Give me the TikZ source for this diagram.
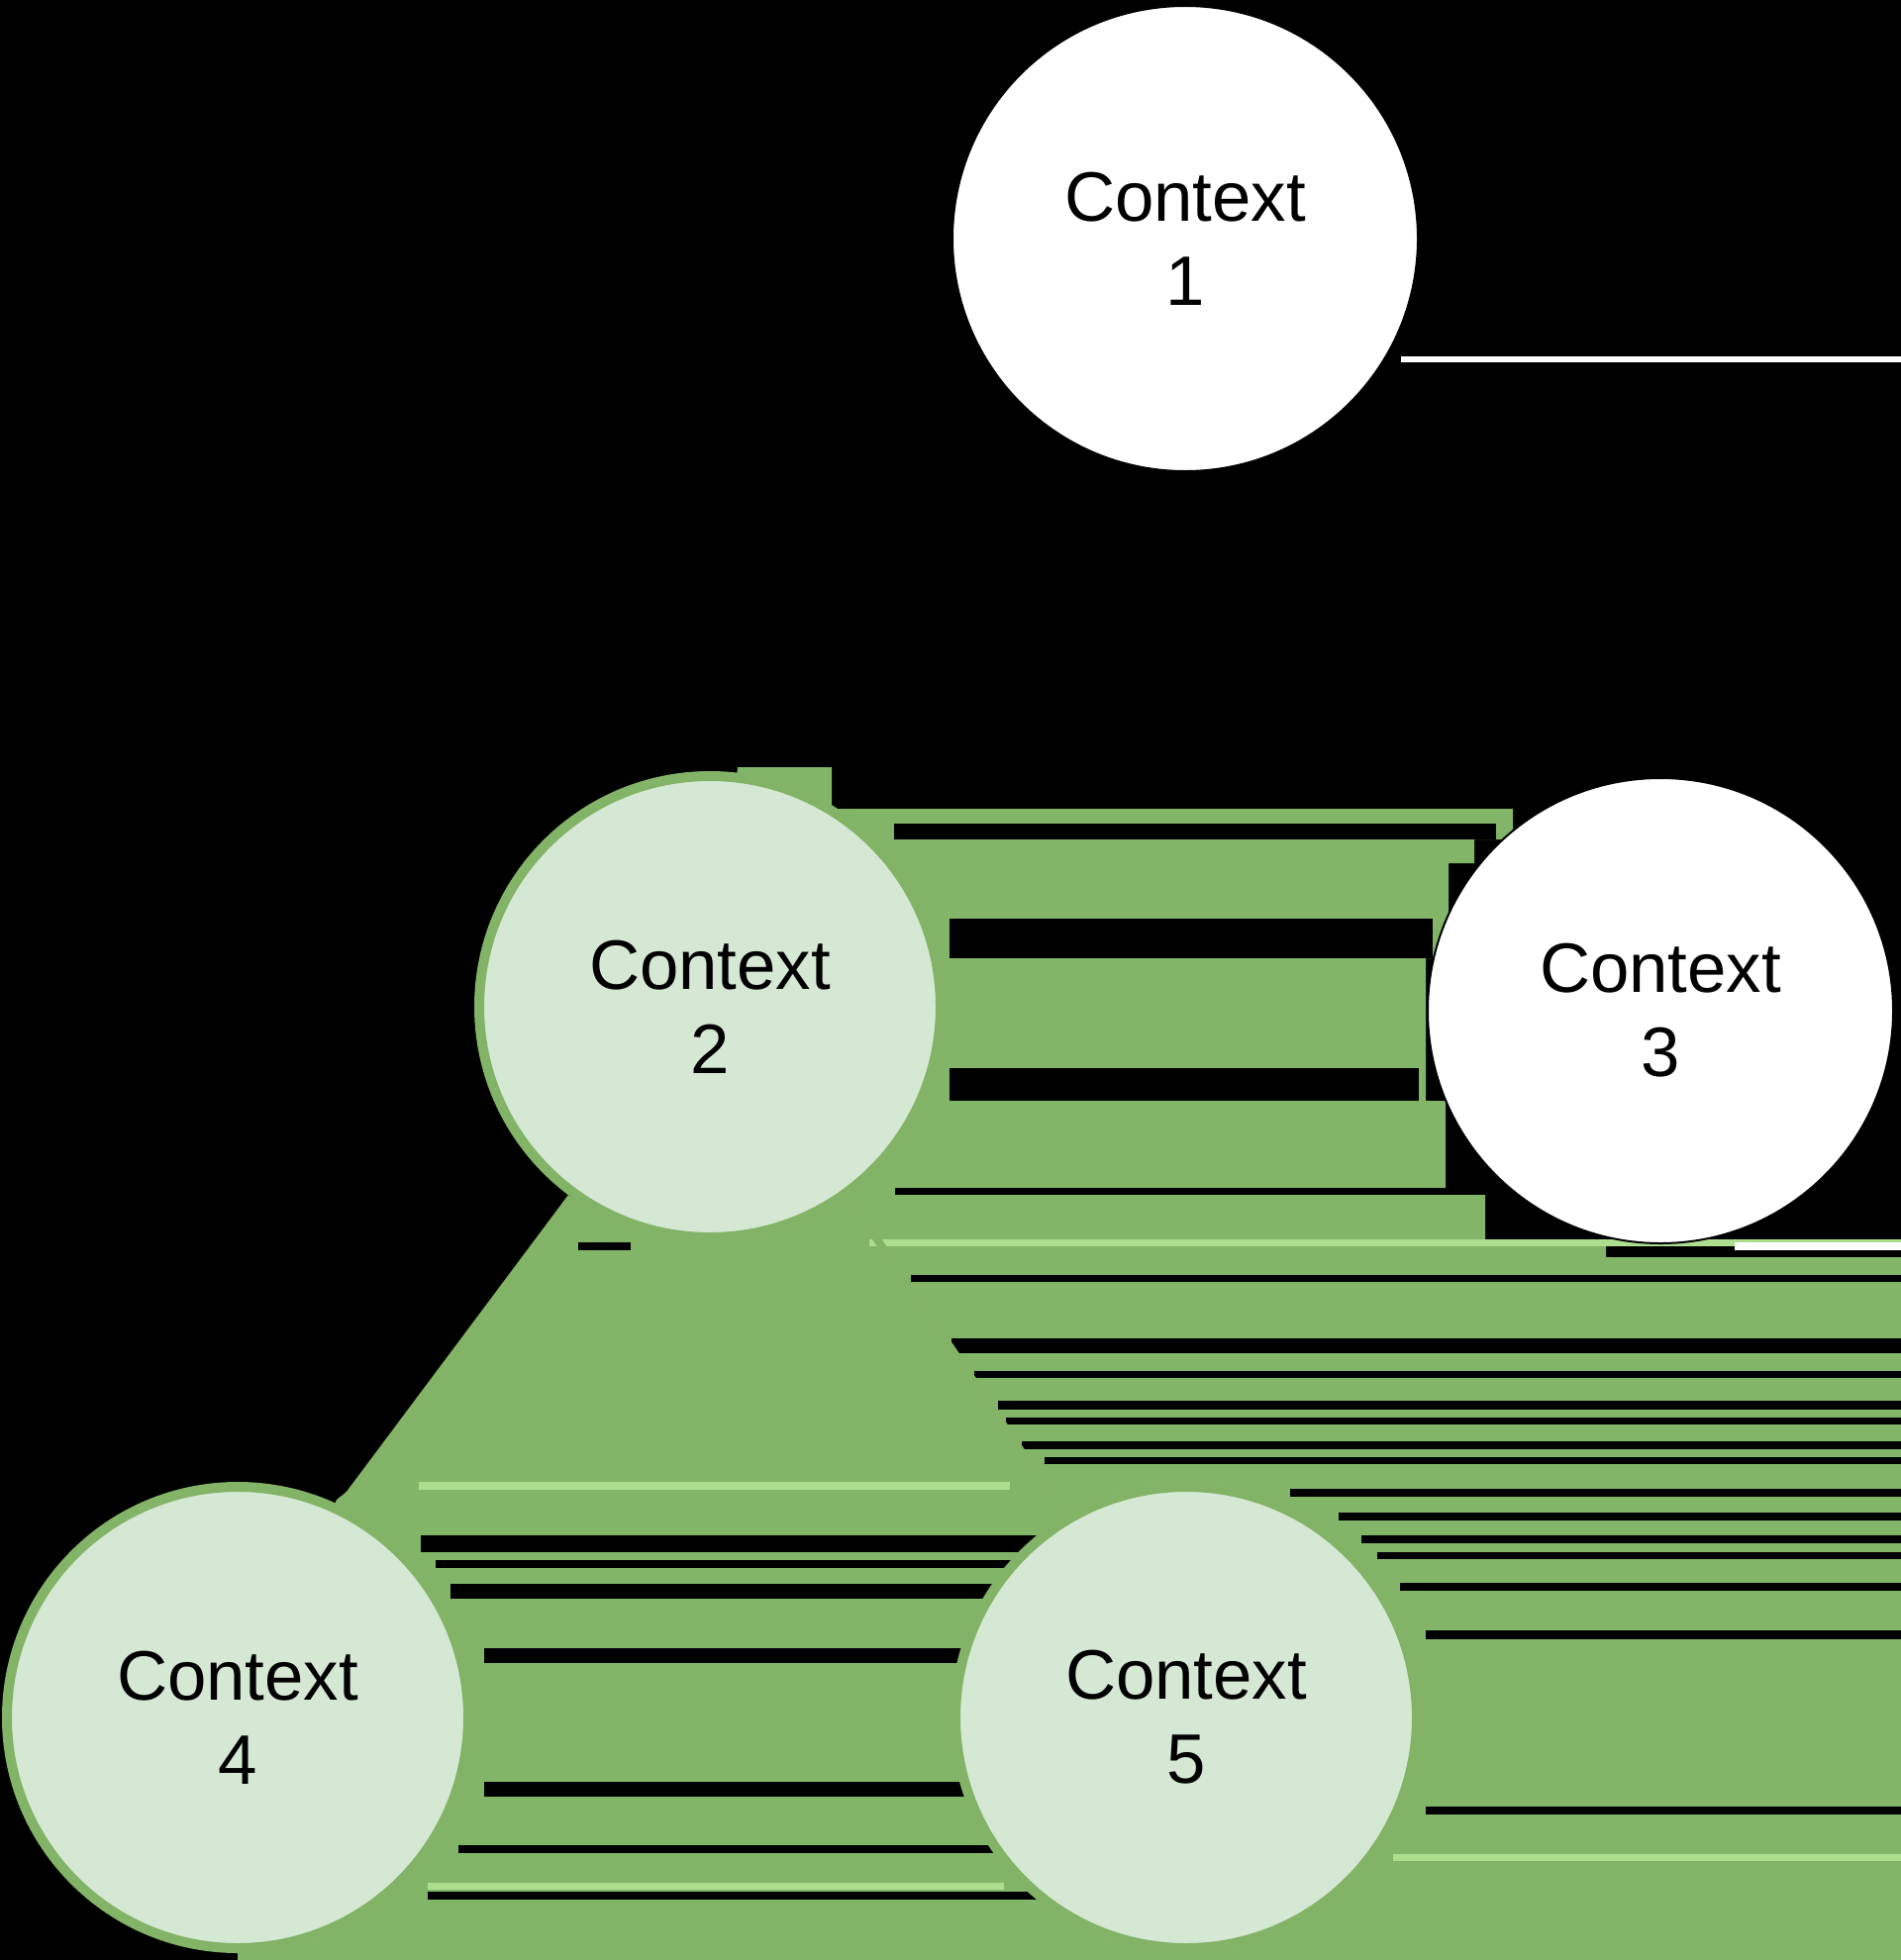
\documentclass[tikz,border=0pt]{standalone}
\usepackage{fontspec}
\setmainfont{Liberation Sans}
\definecolor{smear}{RGB}{131,181,104}
\definecolor{lightsmear}{RGB}{172,222,142}
\definecolor{gfill}{HTML}{D5E8D4}
\definecolor{gstroke}{HTML}{82B366}
\tikzset{
  ctxgreen/.style={circle, draw=gstroke, fill=gfill, line width=5pt, minimum size=233pt, inner sep=0pt, align=center, font=\fontsize{35.4}{42.5}\selectfont},
  ctxwhite/.style={circle, draw=black, fill=white, line width=1pt, minimum size=235pt, inner sep=0pt, align=center, font=\fontsize{35.4}{42.5}\selectfont},
  link/.style={draw=gstroke, line width=4pt}
}
\begin{document}
\begin{tikzpicture}[x=0.5pt, y=-0.5pt]
\useasboundingbox (0,0) rectangle (1920,1980);
\fill[black] (0,0) rectangle (1920,1980);
% smeared green region
\fill[smear] (745,775) -- (840,775) -- (840,817) -- (1528,817) -- (1528,848) -- (1489,848) -- (1489,872) -- (1463,872) -- (1463,968) -- (1440,968) -- (1440,1112) -- (1460,1112) -- (1460,1207) -- (1500,1207) -- (1500,1258) -- (1622,1258) -- (1622,1270) -- (1920,1270) -- (1920,1980) -- (240,1980) -- (240,1735) -- (340,1515) -- (366,1494) -- (575,1211) -- (717,1017) -- cycle;
% black stripes
\foreach \a/\b/\c/\d in {903/1511/832/848, 959/1447/928/968, 959/1433/1079/1112, 904/1495/1200/1207, 584/637/1255/1263, 920/1920/1288/1295,
  961/1920/1352/1367, 984/1920/1385/1392, 1008/1920/1415/1424, 1016/1920/1432/1439, 1032/1920/1456/1464, 1055/1920/1472/1479,
  1303/1920/1504/1512, 1352/1920/1528/1536, 1375/1920/1551/1559, 1391/1920/1568/1575, 1414/1920/1599/1607, 1440/1920/1647/1656, 1440/1920/1825/1833,
  425/1100/1551/1568, 440/1100/1576/1584, 455/1100/1600/1615, 489/1100/1665/1680, 489/1100/1800/1815, 463/1100/1864/1872, 432/1100/1911/1919}
  \fill[black] (\a,\c) rectangle (\b,\d);
% light stripes
\foreach \a/\b/\c/\d in {423/1020/1497/1505, 432/1014/1902/1909, 1407/1920/1873/1880, 878/1920/1252/1259}
  \fill[lightsmear] (\a,\c) rectangle (\b,\d);
\fill[white] (1752,1255) rectangle (1920,1263);
\fill[white] (1415,360) rectangle (1920,366);
% nodes
\node[ctxwhite] (c1) at (1197,241) {Context\\1};
\node[ctxgreen] (c2) at (717,1017) {Context\\2};
\node[ctxwhite] (c3) at (1677,1021) {Context\\3};
\node[ctxgreen] (c4) at (240,1735) {Context\\4};
\node[ctxgreen] (c5) at (1198,1735) {Context\\5};
% connectors
\draw[link] (c2.234) -- (c4.64);
\draw[link] (c2.306) -- (c5.121);
\end{tikzpicture}
\end{document}
